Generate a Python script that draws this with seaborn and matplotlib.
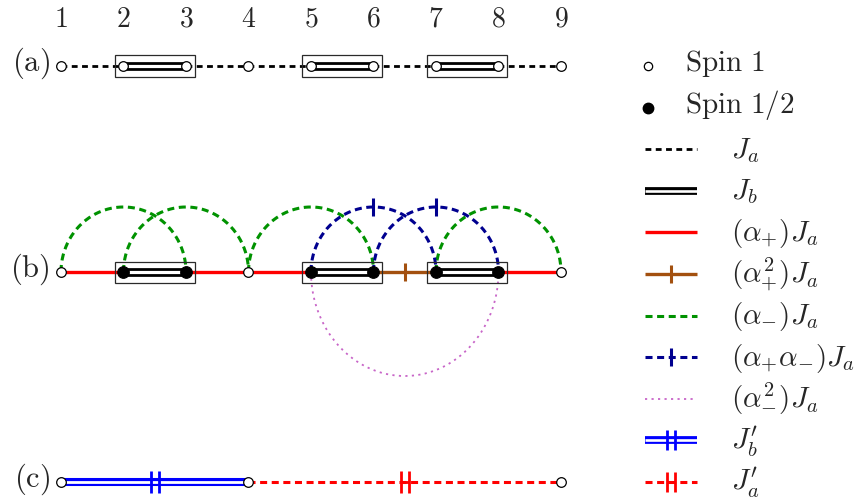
import numpy as np
import matplotlib
matplotlib.use("Agg")
import matplotlib.pyplot as plt
from matplotlib.path import Path
from matplotlib.patches import Rectangle
import pandas as pd
import seaborn as sns

sns.set_theme(style="white")
plt.rcParams["mathtext.fontset"] = "cm"
plt.rcParams["font.family"] = ["DejaVu Serif"]

# ---- chain content -------------------------------------------------------
sites = [1, 2, 3, 4, 5, 6, 7, 8, 9]
dimers = [(2, 3), (5, 6), (7, 8)]
ja_bonds = [(1, 2), (3, 4), (4, 5), (6, 7), (8, 9)]

spin_one_b = [1, 4, 9]
spin_half_b = [2, 3, 5, 6, 7, 8]
alpha_plus_bonds = [(1, 2), (3, 4), (4, 5), (8, 9)]
alpha_plus_sq_bonds = [(6, 7)]
alpha_minus_arcs = [(1, 3), (2, 4), (4, 6), (7, 9)]
alpha_pm_arcs = [(5, 7), (6, 8)]
alpha_minus_sq_arcs = [(5, 8)]

sites_c = [1, 4, 9]
jb_prime_bonds = [(1, 4)]
ja_prime_bonds = [(4, 9)]

row_labels = ["(a)", "(b)", "(c)"]
legend_labels = [
    r"$\mathrm{Spin\ 1}$",
    r"$\mathrm{Spin\ 1/2}$",
    r"$J_a$",
    r"$J_b$",
    r"$(\alpha_{+})J_a$",
    r"$(\alpha_{+}^{2})J_a$",
    r"$(\alpha_{-})J_a$",
    r"$(\alpha_{+}\alpha_{-})J_a$",
    r"$(\alpha_{-}^{2})J_a$",
    r"$J_b'$",
    r"$J_a'$",
]

# ---- geometry -----------------------------------------------------------
W, H = 860, 499
PX, PY = 62.5, 65.0          # pixels per unit along x / y
X0, YB_PIX = 61.0, 272.0     # pixel position of site 1 on row (b)


def ux(px):
    return 1 + (px - X0) / PX


def uy(py):
    return (YB_PIX - py) / PY


Y_A, Y_B, Y_C = uy(66), 0.0, uy(482)

GREEN = "#009200"
NAVY = "#00008f"
RED = "#ff0000"
BROWN = "#a3500f"
MAGENTA = "#c865c8"
BLUE = "#0000ff"

fig = plt.figure(figsize=(W / 100, H / 100), dpi=100)
ax = fig.add_axes([0, 0, 1, 1])

dbl_tick = Path([(-0.4, -1), (-0.4, 1), (0.4, -1), (0.4, 1)],
                [Path.MOVETO, Path.LINETO, Path.MOVETO, Path.LINETO])
dbl_tick_join = Path([(-0.4, -1), (-0.4, 1), (0.4, -1), (0.4, 1),
                      (-0.4, 0), (0.4, 0)],
                     [Path.MOVETO, Path.LINETO, Path.MOVETO, Path.LINETO,
                      Path.MOVETO, Path.LINETO])


def straight(x0, x1, y, **kw):
    ax.plot([x0, x1], [y, y], solid_capstyle="butt", dash_capstyle="butt", **kw)


def double_line(x0, x1, y, color, outer=6.3, inner=2.3, z=2):
    straight(x0, x1, y, color=color, lw=outer, zorder=z)
    straight(x0, x1, y, color="white", lw=inner, zorder=z + 0.1)


def arc(i, j, y, height, sign=1, **kw):
    t = np.linspace(0, np.pi, 240)
    xc, r = (i + j) / 2, (j - i) / 2
    ax.plot(xc - r * np.cos(t), y + sign * height * np.sin(t),
            dash_capstyle="butt", **kw)


def mid_tick(x, y, marker, color, size, mew, z=4):
    ax.plot([x], [y], marker=marker, color=color, ms=size, mew=mew,
            mfc="none", linestyle="none", zorder=z)


def boxes(y):
    for i, j in dimers:
        mx, my = 8.5 / PX, 10.5 / PY
        ax.add_patch(Rectangle((i - mx, y - my), (j - i) + 2 * mx, 2 * my,
                               fill=False, ec="#2a2a2a", lw=0.9, zorder=3))


def site_markers(xs, y, filled):
    df = pd.DataFrame({"site": xs, "row": [y] * len(xs)})
    if filled:
        sns.scatterplot(data=df, x="site", y="row", ax=ax, s=70,
                        color="black", edgecolor="black", linewidth=0.8,
                        zorder=6, legend=False)
    else:
        sns.scatterplot(data=df, x="site", y="row", ax=ax, s=48,
                        color="white", edgecolor="black", linewidth=0.9,
                        zorder=6, legend=False)


BLACK_DASH = dict(color="black", lw=2.0, dashes=(2.1, 1.6))
GREEN_DASH = dict(color=GREEN, lw=2.2, dashes=(2.3, 1.5))
NAVY_DASH = dict(color=NAVY, lw=2.2, dashes=(2.3, 1.5))
MAG_DOT = dict(color=MAGENTA, lw=1.3, dashes=(1.2, 2.4))
RED_DASH = dict(color=RED, lw=2.2, dashes=(2.3, 1.5))

# ---- site numbers -------------------------------------------------------
for s in sites:
    ax.text(s, uy(26.7), rf"${s}$", ha="center", va="baseline", fontsize=20)

# ---- row labels -----------------------------------------------------------
for lab, y in zip(row_labels, [Y_A, Y_B, Y_C]):
    ax.text(ux(50), y - 4.5 / PY, rf"$\mathrm{{{lab}}}$", ha="right",
            va="baseline", fontsize=22)

# ---- row (a) ---------------------------------------------------------------
for i, j in ja_bonds:
    straight(i, j, Y_A, zorder=2, **BLACK_DASH)
for i, j in dimers:
    double_line(i, j, Y_A, "black")
boxes(Y_A)
site_markers(sites, Y_A, filled=False)

# ---- row (b) ---------------------------------------------------------------
for i, j in alpha_plus_bonds:
    straight(i, j, Y_B, color=RED, lw=2.4, zorder=2)
for i, j in alpha_plus_sq_bonds:
    straight(i, j, Y_B, color=BROWN, lw=2.4, zorder=2)
    mid_tick((i + j) / 2, Y_B, "|", BROWN, 13.5, 2.2)
for i, j in alpha_minus_arcs:
    arc(i, j, Y_B, (j - i) / 2, zorder=1, **GREEN_DASH)
for i, j in alpha_pm_arcs:
    arc(i, j, Y_B, (j - i) / 2, zorder=1.5, **NAVY_DASH)
    mid_tick((i + j) / 2, Y_B + (j - i) / 2, "|", NAVY, 13, 2.2)
for i, j in alpha_minus_sq_arcs:
    arc(i, j, Y_B, 1.6, sign=-1, zorder=1, **MAG_DOT)
for i, j in dimers:
    double_line(i, j, Y_B, "black")
boxes(Y_B)
site_markers(spin_one_b, Y_B, filled=False)
site_markers(spin_half_b, Y_B, filled=True)

# ---- row (c) ---------------------------------------------------------------
for i, j in jb_prime_bonds:
    double_line(i, j, Y_C, BLUE, outer=5.8, inner=2.0)
    mid_tick((i + j) / 2, Y_C, dbl_tick, BLUE, 16, 2.0)
for i, j in ja_prime_bonds:
    straight(i, j, Y_C, zorder=2, **RED_DASH)
    mid_tick((i + j) / 2, Y_C, dbl_tick_join, RED, 16, 2.0)
site_markers(sites_c, Y_C, filled=False)

# ---- key -------------------------------------------------------------------
step = (Y_A - Y_C) / (len(legend_labels) - 1)
hx0, hx1 = ux(645), ux(697)
hxm = (hx0 + hx1) / 2
for k, lab in enumerate(legend_labels):
    y = Y_A - k * step
    if k < 2:
        ax.text(ux(685), y - 5 / PY, lab, ha="left", va="baseline", fontsize=21)
    else:
        ax.text(ux(731), y - 8.5 / PY, lab, ha="left", va="baseline", fontsize=21)

y = [Y_A - k * step for k in range(len(legend_labels))]
ax.plot([ux(648)], [y[0]], "o", ms=6.0, mfc="white", mec="black", mew=0.9)
ax.plot([ux(648)], [y[1]], "o", ms=7.5, mfc="black", mec="black")
straight(hx0, hx1, y[2], **BLACK_DASH)
double_line(hx0, hx1, y[3], "black", outer=5.6, inner=1.9)
straight(hx0, hx1, y[4], color=RED, lw=2.4)
straight(hx0, hx1, y[5], color=BROWN, lw=2.4)
mid_tick(hxm, y[5], "|", BROWN, 13.5, 2.2)
straight(hx0, hx1, y[6], **GREEN_DASH)
straight(hx0, hx1, y[7], **NAVY_DASH)
mid_tick(hxm, y[7], "|", NAVY, 13, 2.2)
straight(hx0, hx1, y[8], **MAG_DOT)
double_line(hx0, hx1, y[9], BLUE, outer=5.6, inner=1.9)
mid_tick(hxm, y[9], dbl_tick, BLUE, 15, 2.0)
straight(hx0, hx1, y[10], **RED_DASH)
mid_tick(hxm, y[10], dbl_tick_join, RED, 15, 2.0)

ax.set_xlim(ux(0), ux(W))
ax.set_ylim(uy(H), uy(0))
ax.axis("off")

fig.savefig("out.png", dpi=100)
